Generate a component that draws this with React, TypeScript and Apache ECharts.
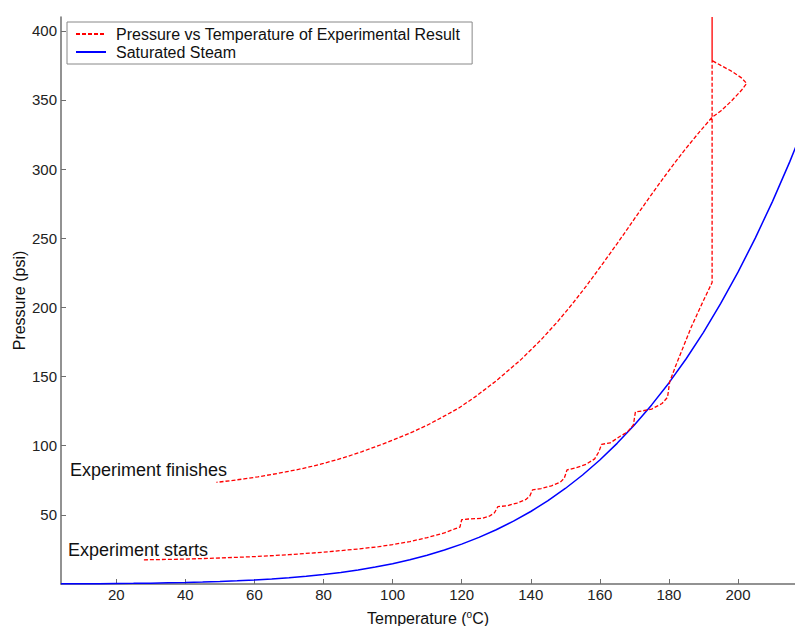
import React, { useEffect, useRef } from "react";
import * as echarts from "echarts";

// Saturated steam : temperature °C, pressure psi
const steamTemps = [4, 10, 15, 20, 25, 30, 35, 40, 45, 50, 55, 60, 65, 70, 75, 80, 85, 90, 95, 100, 105, 110, 115, 120, 125, 130, 135, 140, 145, 150, 155, 160, 165, 170, 175, 180, 185, 190, 195, 200, 205, 210, 215, 220];
const steamPressures = [0.12, 0.18, 0.25, 0.34, 0.46, 0.62, 0.82, 1.07, 1.39, 1.79, 2.29, 2.89, 3.63, 4.53, 5.6, 6.88, 8.39, 10.18, 12.27, 14.71, 17.53, 20.8, 24.54, 28.81, 33.68, 39.2, 45.42, 52.43, 60.33, 69.07, 78.83, 89.66, 101.7, 114.9, 129.5, 145.4, 162.9, 182.0, 202.9, 225.5, 250.1, 276.7, 305.4, 336.4];

// Experimental result path (heating branch, stall at ~193 °C, cooling branch)
const expTemps = [28, 40, 50, 60, 70, 80, 90, 96, 100, 105, 110, 115, 118, 119.5, 120, 122, 126, 128, 129.5, 130.5, 133, 136, 138.5, 139.7, 140.5, 143, 146, 148.5, 149.7, 150.5, 153, 156, 158.5, 159.7, 160.5, 163, 166, 168, 169.7, 170.3, 172, 175, 178, 179.6, 180.2, 182, 186.5, 190, 192.5, 192.5, 192.5, 192.5, 195, 198, 201, 202.5, 201, 198, 195, 192.5, 188.5, 185, 182, 178.5, 175, 171.5, 168, 165, 161.5, 156, 152, 148, 143, 137, 130, 124, 119, 114.5, 110, 106, 102, 98.5, 95, 91, 87, 83.5, 80, 76.5, 73, 69, 65, 61, 57, 53, 49];
const expPressures = [17.5, 18, 18.8, 19.8, 21.2, 23, 25.3, 27, 28.5, 30.7, 33.5, 37, 39.8, 41.2, 46.5, 47, 47.5, 49, 51.5, 56, 56.5, 58.5, 61, 63.5, 68, 69, 71, 73.5, 76.5, 82.5, 84, 86.5, 90.5, 95.5, 101, 102, 107, 110, 115, 124.5, 125, 126.5, 130.5, 135, 146, 158, 186, 205, 218, 300, 410, 378.5, 375, 371, 366, 362, 357, 349, 342, 337.5, 325.9, 315.2, 305.6, 293.9, 281.8, 269.4, 256.8, 246.1, 233.9, 215.2, 202.4, 190.4, 176.6, 161.9, 146.9, 135.5, 127, 120.8, 114.8, 110.2, 106, 102.5, 99.2, 95.6, 92.3, 89.6, 87.2, 85, 83, 81, 79.2, 77.5, 76, 74.7, 73.5];

const xTicks = [20, 40, 60, 80, 100, 120, 140, 160, 180, 200];
const yTicks = [50, 100, 150, 200, 250, 300, 350, 400];

const seriesNames = ["Pressure vs Temperature of Experimental Result", "Saturated Steam"];
const annotations = ["Experiment finishes", "Experiment starts"];

const FONT = "'Liberation Sans', Arial, Helvetica, sans-serif";
const AXIS_COLOR = "#6e6e6e";

export default function App() {
  const ref = useRef<HTMLDivElement>(null);
  useEffect(() => {
    if (!ref.current) return;
    const chart = echarts.init(ref.current, null, { renderer: "svg" });
    const axisCommon = {
      type: "value",
      axisLine: { show: true, lineStyle: { color: AXIS_COLOR, width: 1.5 } },
      splitLine: { show: false },
      nameLocation: "middle",
      nameMoveOverlap: false,
    };
    chart.setOption({
      animation: false,
      backgroundColor: "#ffffff",
      grid: { left: 61, right: 0, top: 17, bottom: 42, outerBoundsMode: "none" },
      legend: {
        data: seriesNames,
        orient: "vertical",
        left: 67,
        top: 22,
        itemWidth: 30,
        itemHeight: 10,
        itemGap: 2,
        padding: [4, 12, 4, 8],
        borderColor: "#888888",
        borderWidth: 1,
        backgroundColor: "#ffffff",
        itemStyle: { opacity: 0 },
        textStyle: { fontSize: 16, fontFamily: FONT, color: "#111", padding: [0, 0, 0, 5] },
      },
      xAxis: {
        ...axisCommon,
        min: 4,
        max: 216.5,
        axisTick: { show: true, inside: true, length: 5, customValues: xTicks, lineStyle: { color: AXIS_COLOR } },
        axisLabel: { customValues: xTicks, fontSize: 15, fontFamily: FONT, color: "#222", margin: 3 },
        name: "Temperature ({sup|o}C)",
        nameGap: 25,
        nameTextStyle: {
          fontSize: 16,
          fontFamily: FONT,
          color: "#111",
          rich: { sup: { fontSize: 10, fontFamily: FONT, color: "#111", padding: [0, 0, 8, 0] } },
        },
      },
      yAxis: {
        ...axisCommon,
        min: 0,
        max: 410,
        axisTick: { show: true, inside: true, length: 5, customValues: yTicks, lineStyle: { color: AXIS_COLOR } },
        axisLabel: { customValues: yTicks, fontSize: 15, fontFamily: FONT, color: "#222", margin: 4 },
        name: "Pressure (psi)",
        nameGap: 34,
        nameTextStyle: { fontSize: 16, fontFamily: FONT, color: "#111" },
      },
      series: [
        {
          name: seriesNames[0],
          type: "line",
          symbol: "none",
          z: 3,
          data: expTemps.map((t, i) => [t, expPressures[i]]),
          itemStyle: { color: "#ff0000" },
          lineStyle: { color: "#ff0000", width: 1.3, type: [4, 2] },
        },
        {
          name: seriesNames[1],
          type: "line",
          symbol: "none",
          z: 2,
          clip: false,
          data: steamTemps.map((t, i) => [t, steamPressures[i]]),
          itemStyle: { color: "#0000ff" },
          lineStyle: { color: "#0000ff", width: 1.5 },
        },
      ],
      graphic: [
        { type: "text", left: 70, top: 461, style: { text: annotations[0], fontSize: 18, fontFamily: FONT, fill: "#111" } },
        { type: "text", left: 68, top: 541, style: { text: annotations[1], fontSize: 18, fontFamily: FONT, fill: "#111" } },
      ],
    });
    return () => chart.dispose();
  }, []);
  return <div ref={ref} style={{ position: "fixed", left: 0, top: 0, width: 795, height: 626 }} />;
}
